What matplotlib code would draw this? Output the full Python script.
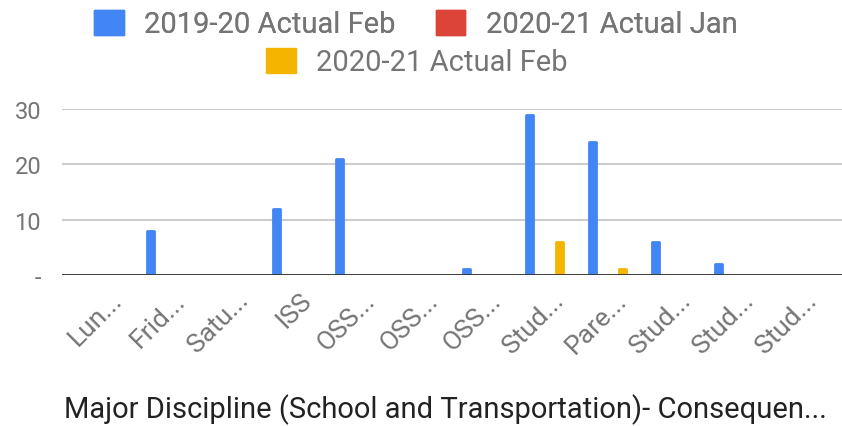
import matplotlib
matplotlib.use("Agg")
import matplotlib.pyplot as plt
import numpy as np
from matplotlib.patches import Patch

plt.rcParams['font.family'] = ['Roboto', 'DejaVu Sans']

categories = ["Lun...", "Frid...", "Satu...", "ISS", "OSS...", "OSS...", "OSS...",
              "Stud...", "Pare...", "Stud...", "Stud...", "Stud..."]
series_names = ["2019-20 Actual Feb", "2020-21 Actual Jan", "2020-21 Actual Feb"]
feb_2019 = [0, 8, 0, 12, 21, 0, 1, 29, 24, 6, 2, 0]
jan_2020 = [0, 0, 0, 0, 0, 0, 0, 0, 0, 0, 0, 0]
feb_2020 = [0, 0, 0, 0, 0, 0, 0, 6, 1, 0, 0, 0]
y_ticks = [0, 10, 20, 30]
y_tick_labels = ["-", "10", "20", "30"]
x_title = "Major Discipline (School and Transportation)- Consequen..."

colors = ["#4285F4", "#DB4437", "#F4B400"]
W, H = 842, 427
fig = plt.figure(figsize=(W / 100, H / 100), dpi=100)
ax = fig.add_axes([62 / W, 1 - 276 / H, (W - 62) / W, (276 - 110) / H])

x = np.arange(len(categories))
step = 0.237
bw = 0.11
for i, (vals, c) in enumerate(zip([feb_2019, jan_2020, feb_2020], colors)):
    lw = [2.0 if v > 0 else 0 for v in vals]
    ax.bar(x + (i - 1) * step, vals, width=bw, color=c, edgecolor=c,
           linewidth=lw, joinstyle='round', zorder=3)

ax.set_xlim(-0.64, 11.72)
ax.set_ylim(0, 30)
ax.set_yticks(y_ticks)
ax.set_yticklabels(y_tick_labels)
for s in ax.spines.values():
    s.set_visible(False)
ax.grid(axis='y', color='#cccccc', linewidth=1.5, zorder=0)
ax.axhline(0, color='#333333', linewidth=2, zorder=4)
ax.tick_params(axis='y', length=0, pad=15, labelsize=17, labelcolor='#757575')
ax.tick_params(axis='x', length=0, pad=9, labelsize=19, labelcolor='#757575')
ax.set_xticks(x + 0.12)
ax.set_xticklabels(categories, rotation=45, ha='right', rotation_mode='anchor')

fig.text(445 / W, 1 - 410 / H, x_title, ha='center', va='center',
         fontsize=21, color='#222222')

h = [Patch(facecolor=c, edgecolor=c) for c in colors]
kw = dict(frameon=False, fontsize=21, labelcolor='#757575',
          handlelength=1.0, handleheight=0.95, handletextpad=0.7)
leg1 = fig.legend(h[:2], series_names[:2], loc='center', bbox_to_anchor=(416 / W, 1 - 25 / H),
                  ncol=2, columnspacing=1.4, **kw)
leg2 = fig.legend(h[2:], series_names[2:], loc='center', bbox_to_anchor=(417 / W, 1 - 63 / H),
                  ncol=1, **kw)
fig.add_artist(leg1)

fig.savefig("out.png", dpi=100)
